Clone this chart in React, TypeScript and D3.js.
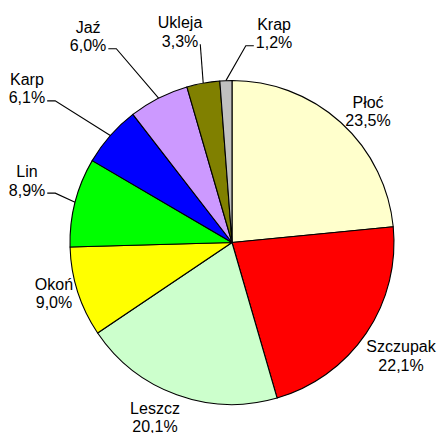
import React from 'react';
import * as d3 from 'd3';

const categories = ['Płoć', 'Szczupak', 'Leszcz', 'Okoń', 'Lin', 'Karp', 'Jaź', 'Ukleja', 'Krap'];
const values = [23.5, 22.1, 20.1, 9.0, 8.9, 6.1, 6.0, 3.3, 1.2];
const colors = ['#FFFFCC', '#FF0000', '#CCFFCC', '#FFFF00', '#00FF00', '#0000FF', '#CC99FF', '#808000', '#C0C0C0'];
// label placement in polar form: angle (deg, clockwise from 12 o'clock) and distance from the centre
const labelAngles = [46.2, 124.0, 203.7, 253.9, 286.6, 306.8, 325.0, 346.1, 11.4];
const labelRadii = [188.5, 203.9, 191.6, 185.3, 213.9, 256.1, 250.9, 216.3, 212.7];
const hasLeader = [false, false, false, false, true, true, true, true, true];

const W = 439;
const H = 433;
const CX = 232;
const CY = 242.5;
const R = 162;
const FONT_SIZE = 16;
const LINE_H = 18.5;
const FONT = "'Liberation Sans', Arial, sans-serif";

const fmt = (v: number) => v.toFixed(1).replace('.', ',') + '%';

let ctx: CanvasRenderingContext2D | null = null;
function measure(t: string): number {
  if (!ctx) {
    const c = document.createElement('canvas');
    ctx = c.getContext('2d');
  }
  if (!ctx) return t.length * FONT_SIZE * 0.55;
  ctx.font = `${FONT_SIZE}px ${FONT}`;
  return ctx.measureText(t).width;
}

export default function App() {
  const pie = d3.pie<number>().sort(null).value((d) => d);
  const arcs = pie(values);
  const arcGen = d3.arc<d3.PieArcDatum<number>>().innerRadius(0).outerRadius(R);
  const toRad = d3.scaleLinear().domain([0, 360]).range([0, 2 * Math.PI]);

  return (
    <svg width={W} height={H} style={{ position: 'absolute', left: 0, top: 0, background: '#fff' }}>
      <g transform={`translate(${CX},${CY})`}>
        {arcs.map((a, i) => (
          <path key={i} d={arcGen(a) || ''} fill={colors[i]} stroke="#000" strokeWidth={1.1} strokeLinejoin="round" />
        ))}
        {arcs.map((a, i) => {
          const ang = toRad(labelAngles[i]);
          const lx = Math.sin(ang) * labelRadii[i];
          const ly = -Math.cos(ang) * labelRadii[i] - 0.5;
          const name = categories[i];
          const val = fmt(values[i]);
          const y1 = ly - LINE_H / 2;
          const y2 = ly + LINE_H / 2;
          let leader = null;
          if (hasLeader[i]) {
            const mid = (a.startAngle + a.endAngle) / 2;
            const ax = Math.sin(mid) * R;
            const ay = -Math.cos(mid) * R;
            const side = ax > lx ? 1 : -1;
            const w = measure(val);
            const ex = lx + side * (w / 2 + 2);
            const ey = y2 + 3;
            const pts: [number, number][] = [[ex, ey]];
            const elbowX = ex + side * 8;
            if ((ax - elbowX) * side > 0) pts.push([elbowX, ey]);
            pts.push([ax, ay]);
            leader = <path d={d3.line()(pts) || ''} fill="none" stroke="#000" strokeWidth={1.1} />;
          }
          return (
            <g key={'l' + i}>
              {leader}
              <text textAnchor="middle" fontFamily={FONT} fontSize={FONT_SIZE} fill="#000">
                <tspan x={lx} y={y1 + FONT_SIZE * 0.35}>{name}</tspan>
                <tspan x={lx} y={y2 + FONT_SIZE * 0.35}>{val}</tspan>
              </text>
            </g>
          );
        })}
      </g>
    </svg>
  );
}
